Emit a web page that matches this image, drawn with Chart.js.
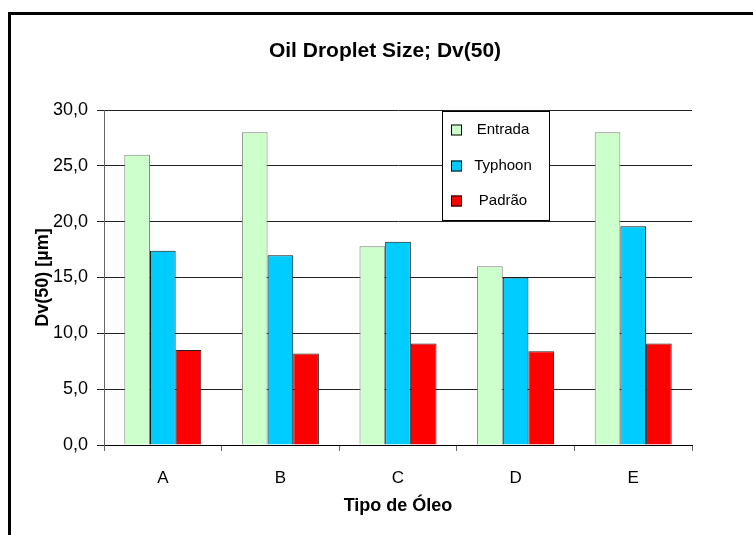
<!DOCTYPE html>
<html>
<head>
<meta charset="utf-8">
<script src="https://cdn.jsdelivr.net/npm/chart.js@4/dist/chart.umd.min.js"></script>
<style>
  html, body { margin: 0; padding: 0; background: #fff; }
  #wrap { position: relative; width: 753px; height: 535px; }
</style>
</head>
<body>
<div id="wrap"><canvas id="c" width="753" height="535"></canvas></div>
<script>
// Oil types on the x axis
const categories = ['A', 'B', 'C', 'D', 'E'];

// Dv(50) droplet size in µm for each sampling point
const entrada = [26.0, 28.0, 17.8, 16.0, 28.0];
const typhoon = [17.4, 17.0, 18.2, 15.0, 19.6];
const padrao  = [8.5, 8.2, 9.1, 8.4, 9.1];

const seriesNames = ['Entrada', 'Typhoon', 'Padrão'];
const chartTitle = 'Oil Droplet Size; Dv(50)';

// Y axis range and tick step
const yMin = 0, yMax = 30, yStep = 5;

const FONT = '"Liberation Sans", Arial, sans-serif';

// Outer frame of the chart sheet and the heading
const framePlugin = {
  id: 'frame',
  beforeDraw(chart) {
    const ctx = chart.ctx;
    ctx.save();
    ctx.fillStyle = '#fff';
    ctx.fillRect(0, 0, chart.width, chart.height);
    ctx.strokeStyle = '#000';
    ctx.lineWidth = 3;
    ctx.beginPath();
    ctx.moveTo(9.5, chart.height + 5);
    ctx.lineTo(9.5, 13.5);
    ctx.lineTo(chart.width + 5, 13.5);
    ctx.stroke();
    ctx.fillStyle = '#000';
    ctx.font = 'bold 21px ' + FONT;
    ctx.textAlign = 'center';
    ctx.textBaseline = 'middle';
    ctx.fillText(chartTitle, 385, 51);
    ctx.restore();
  }
};

// Boxed legend placed inside the plot area
const boxLegendPlugin = {
  id: 'boxLegend',
  afterDatasetsDraw(chart) {
    const ctx = chart.ctx;
    const box = { x: 442.5, y: 111.5, w: 107, h: 109 };
    ctx.save();
    ctx.fillStyle = '#fff';
    ctx.fillRect(box.x, box.y, box.w, box.h);
    ctx.strokeStyle = '#000';
    ctx.lineWidth = 1;
    ctx.strokeRect(box.x, box.y, box.w, box.h);
    const rows = [130, 166, 201];
    ctx.font = '15px ' + FONT;
    ctx.textAlign = 'center';
    ctx.textBaseline = 'middle';
    chart.data.datasets.forEach((ds, i) => {
      const cy = rows[i];
      ctx.fillStyle = ds.backgroundColor;
      ctx.fillRect(451, cy - 5.5, 11, 11);
      ctx.strokeStyle = '#000';
      ctx.strokeRect(451.5, cy - 5, 10, 10);
      ctx.fillStyle = '#000';
      ctx.fillText(ds.label, 503, cy);
    });
    ctx.restore();
  }
};

new Chart(document.getElementById('c'), {
  type: 'bar',
  data: {
    labels: categories,
    datasets: [
      { label: seriesNames[0], data: entrada, backgroundColor: '#CCFFCC', borderColor: '#808080', borderWidth: 1 },
      { label: seriesNames[1], data: typhoon, backgroundColor: '#00CCFF', borderColor: '#111', borderWidth: 1 },
      { label: seriesNames[2], data: padrao,  backgroundColor: '#FF0000', borderColor: '#222', borderWidth: 1 }
    ]
  },
  options: {
    responsive: false,
    animation: false,
    devicePixelRatio: 1,
    layout: { padding: { left: 0, right: 61, top: 110, bottom: 0 } },
    datasets: {
      bar: { categoryPercentage: 0.655, barPercentage: 1.0 }
    },
    plugins: {
      legend: { display: false },
      tooltip: { enabled: false },
      title: { display: false }
    },
    scales: {
      x: {
        afterFit(scale) { scale.height = 90; },
        grid: {
          offset: true,
          drawOnChartArea: false,
          drawTicks: true,
          tickLength: 6,
          color: '#666'
        },
        border: { display: true, color: '#000', width: 1 },
        ticks: {
          color: '#000',
          font: { family: FONT, size: 17 },
          padding: 17
        },
        title: {
          display: true,
          text: 'Tipo de Óleo',
          color: '#000',
          font: { family: FONT, size: 18, weight: 'bold' },
          padding: { top: 0, bottom: 18 }
        }
      },
      y: {
        min: yMin,
        max: yMax,
        afterFit(scale) { scale.width = 104; },
        grid: {
          color: '#222',
          tickLength: 7,
          drawTicks: true
        },
        border: { display: true, color: '#666', width: 1 },
        ticks: {
          stepSize: yStep,
          color: '#000',
          font: { family: FONT, size: 18 },
          padding: 9,
          callback: (v) => v.toFixed(1).replace('.', ',')
        },
        title: {
          display: true,
          text: 'Dv(50) [µm]',
          color: '#000',
          font: { family: FONT, size: 18, weight: 'bold' },
          padding: { top: 32, bottom: 0 }
        }
      }
    }
  },
  plugins: [framePlugin, boxLegendPlugin]
});
</script>
</body>
</html>
